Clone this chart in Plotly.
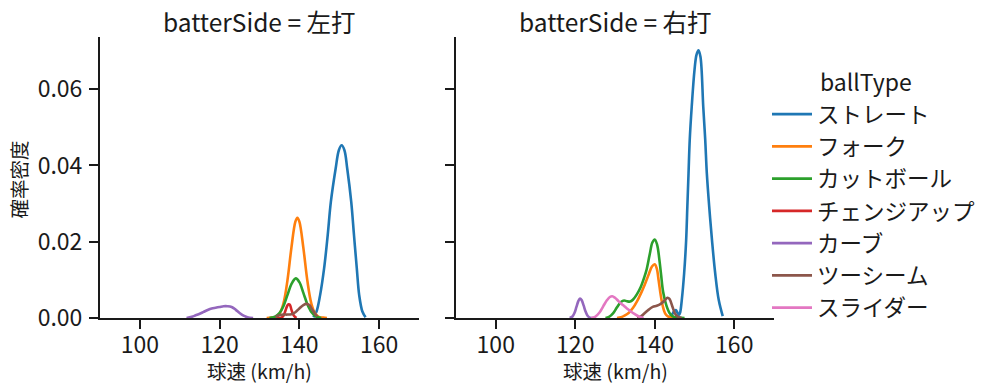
import plotly.graph_objects as go

# ---------------- data ----------------
ball_types = ["ストレート", "フォーク", "カットボール", "チェンジアップ", "カーブ", "ツーシーム", "スライダー"]
colors = ["#1f77b4", "#ff7f0e", "#2ca02c", "#d62728", "#9467bd", "#8c564b", "#e377c2"]
panel_titles = ["batterSide = 左打", "batterSide = 右打"]
legend_title = "ballType"
x_label = "球速 (km/h)"
y_label = "確率密度"
x_ticks = [100, 120, 140, 160]
y_ticks = [0.00, 0.02, 0.04, 0.06]

# left panel (左打)
L_straight_x = [143.5, 144.3, 145.2, 146.2, 147.1, 147.9, 149.1, 149.9, 150.6, 151.3, 152.0, 153.0, 153.7, 154.4, 155.0, 155.8, 156.6]
L_straight_y = [0.0002, 0.0017, 0.0060, 0.0130, 0.0217, 0.0305, 0.0392, 0.0440, 0.0453, 0.0440, 0.0392, 0.0305, 0.0217, 0.0130, 0.0060, 0.0017, 0.0002]
L_fork_x = [131.8, 133, 134, 135, 136, 137, 138, 139, 139.5, 140, 141, 142, 143, 144, 145, 146, 146.9]
L_fork_y = [0.0000, 0.0001, 0.0002, 0.0011, 0.0038, 0.0098, 0.0184, 0.0253, 0.0263, 0.0253, 0.0184, 0.0098, 0.0038, 0.0011, 0.0002, 0.0001, 0.0000]
L_cut_x = [132.5, 133, 134, 135, 136, 137, 138, 139.1, 140, 141, 142, 142.7, 143, 144, 145, 145.5]
L_cut_y = [0.0000, 0.0001, 0.0004, 0.0013, 0.0031, 0.0060, 0.0089, 0.0104, 0.0094, 0.0066, 0.0036, 0.0021, 0.0016, 0.0005, 0.0001, 0.0000]
L_change_x = [134.3, 135.5, 136, 136.5, 137, 137.3, 137.6, 138, 138.5, 139, 139.3]
L_change_y = [0.0000, 0.0001, 0.0006, 0.0019, 0.0033, 0.0036, 0.0035, 0.0022, 0.0008, 0.0002, 0.0000]
L_curve_x = [111.7, 113, 114, 115, 116, 117, 118, 119, 120, 121, 122, 123, 124, 125, 126, 127, 128.4]
L_curve_y = [0.0000, 0.0003, 0.0007, 0.0011, 0.0016, 0.0021, 0.0025, 0.0027, 0.0029, 0.0031, 0.0031, 0.0029, 0.0022, 0.0013, 0.0006, 0.0002, 0.0000]
L_two_x = [134, 135, 136, 137, 138, 139, 140, 141, 141.8, 142.5, 143, 144, 144.5]
L_two_y = [0.0003, 0.0007, 0.0009, 0.0009, 0.0010, 0.0015, 0.0025, 0.0034, 0.0037, 0.0034, 0.0026, 0.0010, 0.0004]

# right panel (右打)
R_straight_x = [143.6, 144.3, 144.8, 145.3, 145.8, 146.1, 146.4, 146.8, 147.4, 147.9, 148.2, 148.5, 148.8, 149.3, 150.0, 150.5, 151.0, 151.5, 152.2, 152.7, 153.1, 153.7, 154.4, 155.2, 156.1, 157.1]
R_straight_y = [0.0001, 0.0008, 0.0017, 0.0021, 0.0012, 0.0008, 0.0015, 0.0047, 0.0118, 0.0204, 0.0292, 0.0380, 0.0467, 0.0554, 0.0650, 0.0690, 0.0702, 0.0685, 0.0554, 0.0467, 0.0380, 0.0292, 0.0204, 0.0118, 0.0047, 0.0005]
R_fork_x = [130.5, 131.5, 132.5, 133.5, 134.5, 135.5, 136.5, 137.5, 138.5, 139.3, 140.0, 140.5, 141.0, 141.5, 142.0, 142.6, 143.3, 144.5, 145.3]
R_fork_y = [0.0000, 0.0002, 0.0007, 0.0014, 0.0026, 0.0043, 0.0064, 0.0088, 0.0115, 0.0135, 0.0141, 0.0130, 0.0097, 0.0060, 0.0032, 0.0012, 0.0004, 0.0001, 0.0000]
R_cut_x = [127.6, 128.5, 129.5, 130.5, 131.5, 132.3, 133.0, 133.8, 134.5, 135.5, 136.5, 137.3, 137.9, 138.7, 139.4, 140.0, 140.6, 141.2, 141.6, 142.1, 142.9, 143.8, 144.8, 146.0, 147.5]
R_cut_y = [0.0000, 0.0003, 0.0012, 0.0028, 0.0042, 0.0046, 0.0044, 0.0043, 0.0048, 0.0062, 0.0082, 0.0105, 0.0125, 0.0165, 0.0198, 0.0206, 0.0192, 0.0150, 0.0113, 0.0069, 0.0034, 0.0012, 0.0003, 0.0001, 0.0000]
R_curve_x = [118.6, 119.3, 119.8, 120.3, 120.8, 121.2, 121.6, 122.1, 122.6, 123.1, 123.7, 124.5]
R_curve_y = [0.0000, 0.0004, 0.0013, 0.0029, 0.0045, 0.0051, 0.0047, 0.0033, 0.0017, 0.0006, 0.0001, 0.0000]
R_two_x = [135.6, 136.5, 137.5, 138.5, 139.5, 140.5, 141.5, 142.5, 143.2, 143.7, 144.5, 145.2, 146.0, 146.8]
R_two_y = [0.0000, 0.0004, 0.0013, 0.0022, 0.0029, 0.0032, 0.0037, 0.0046, 0.0053, 0.0050, 0.0028, 0.0010, 0.0002, 0.0000]
R_slider_x = [124.0, 125.0, 126.0, 127.0, 128.0, 128.7, 129.3, 130.0, 131.0, 132.0, 133.0, 134.0, 135.0, 136.0, 137.2]
R_slider_y = [0.0000, 0.0003, 0.0013, 0.0030, 0.0047, 0.0055, 0.0057, 0.0053, 0.0043, 0.0034, 0.0025, 0.0017, 0.0010, 0.0004, 0.0000]

left_series = {
    "ストレート": (L_straight_x, L_straight_y),
    "フォーク": (L_fork_x, L_fork_y),
    "カットボール": (L_cut_x, L_cut_y),
    "チェンジアップ": (L_change_x, L_change_y),
    "カーブ": (L_curve_x, L_curve_y),
    "ツーシーム": (L_two_x, L_two_y),
}
right_series = {
    "ストレート": (R_straight_x, R_straight_y),
    "フォーク": (R_fork_x, R_fork_y),
    "カットボール": (R_cut_x, R_cut_y),
    "カーブ": (R_curve_x, R_curve_y),
    "ツーシーム": (R_two_x, R_two_y),
    "スライダー": (R_slider_x, R_slider_y),
}

# ---------------- figure ----------------
FONT = "Noto Sans CJK JP"
INK = "#1a1a1a"
W, H = 999, 391              # the page's body margin is removed below (post_script)


def fx(px):                  # page pixel -> paper x
    return px / W


def fy(py):                  # page pixel -> paper y
    return (H - py) / H


fig = go.Figure()
for name, col in zip(ball_types, colors):
    shown = False
    for series, xa, ya in ((left_series, "x", "y"), (right_series, "x2", "y2")):
        if name in series:
            xs, ys = series[name]
            fig.add_trace(go.Scatter(
                x=xs, y=ys, mode="lines", name=name, legendgroup=name,
                line=dict(color=col, width=2.6, shape="spline", smoothing=1.0),
                xaxis=xa, yaxis=ya, showlegend=not shown, hoverinfo="skip"))
            shown = True
    if not shown:
        fig.add_trace(go.Scatter(
            x=[None], y=[None], mode="lines", name=name, legendgroup=name,
            line=dict(color=col, width=2.6), xaxis="x", yaxis="y", showlegend=True))

ax = dict(showline=True, linecolor=INK, linewidth=2, ticks="outside",
          ticklen=9, tickwidth=2, tickcolor=INK, showgrid=False, zeroline=False,
          tickfont=dict(family=FONT, size=23, color=INK), mirror=False,
          automargin=False)

y_dom = [fy(318), fy(37)]
fig.update_layout(
    template="none",
    width=W, height=H, margin=dict(l=0, r=0, t=0, b=0, autoexpand=False),
    paper_bgcolor="white", plot_bgcolor="white",
    font=dict(family=FONT, color=INK),
    xaxis=dict(domain=[fx(100), fx(419)], range=[90, 170], tickvals=x_ticks, anchor="y",
               ticklabelstandoff=-4, **ax),
    xaxis2=dict(domain=[fx(456), fx(774)], range=[90, 170], tickvals=x_ticks, anchor="y2",
                ticklabelstandoff=-4, **ax),
    yaxis=dict(domain=y_dom, range=[0, 0.0737], tickvals=y_ticks, tickformat=".2f", anchor="x",
               ticklabelstandoff=2, **ax),
    yaxis2=dict(domain=y_dom, range=[0, 0.0737], tickvals=y_ticks, tickformat=".2f", anchor="x2",
                matches="y", showticklabels=False, **ax),
    legend=dict(x=fx(767), xanchor="left", y=fy(93), yanchor="top",
                font=dict(family=FONT, size=22.5, color=INK),
                tracegroupgap=0, bgcolor="rgba(0,0,0,0)", itemwidth=40),
    showlegend=True,
)

label_font = dict(family=FONT, size=19.5, color=INK)
centers = [fx((100 + 419) / 2), fx((456 + 774) / 2)]
for cx, t in zip(centers, panel_titles):
    # facet title
    fig.add_annotation(x=cx, y=fy(21), xref="paper", yref="paper", text=t, showarrow=False,
                       xanchor="center", yanchor="middle",
                       font=dict(family=FONT, size=24.5, color=INK))
    # x-axis title
    fig.add_annotation(x=cx, y=fy(370), xref="paper", yref="paper", text=x_label, showarrow=False,
                       xanchor="center", yanchor="middle", font=label_font)

# y-axis title
fig.add_annotation(x=fx(17.5), y=fy(180), xref="paper", yref="paper", text=y_label, showarrow=False,
                   xanchor="center", yanchor="middle", textangle=-90, font=label_font)

# legend title, centred over the legend entries
fig.add_annotation(x=fx(866), y=fy(81), xref="paper", yref="paper", text=legend_title,
                   showarrow=False, xanchor="center", yanchor="middle",
                   font=dict(family=FONT, size=23, color=INK))

fig.write_html("out.html", config={"displayModeBar": False},
               post_script="document.body.style.margin='0';document.body.style.overflow='hidden';")
